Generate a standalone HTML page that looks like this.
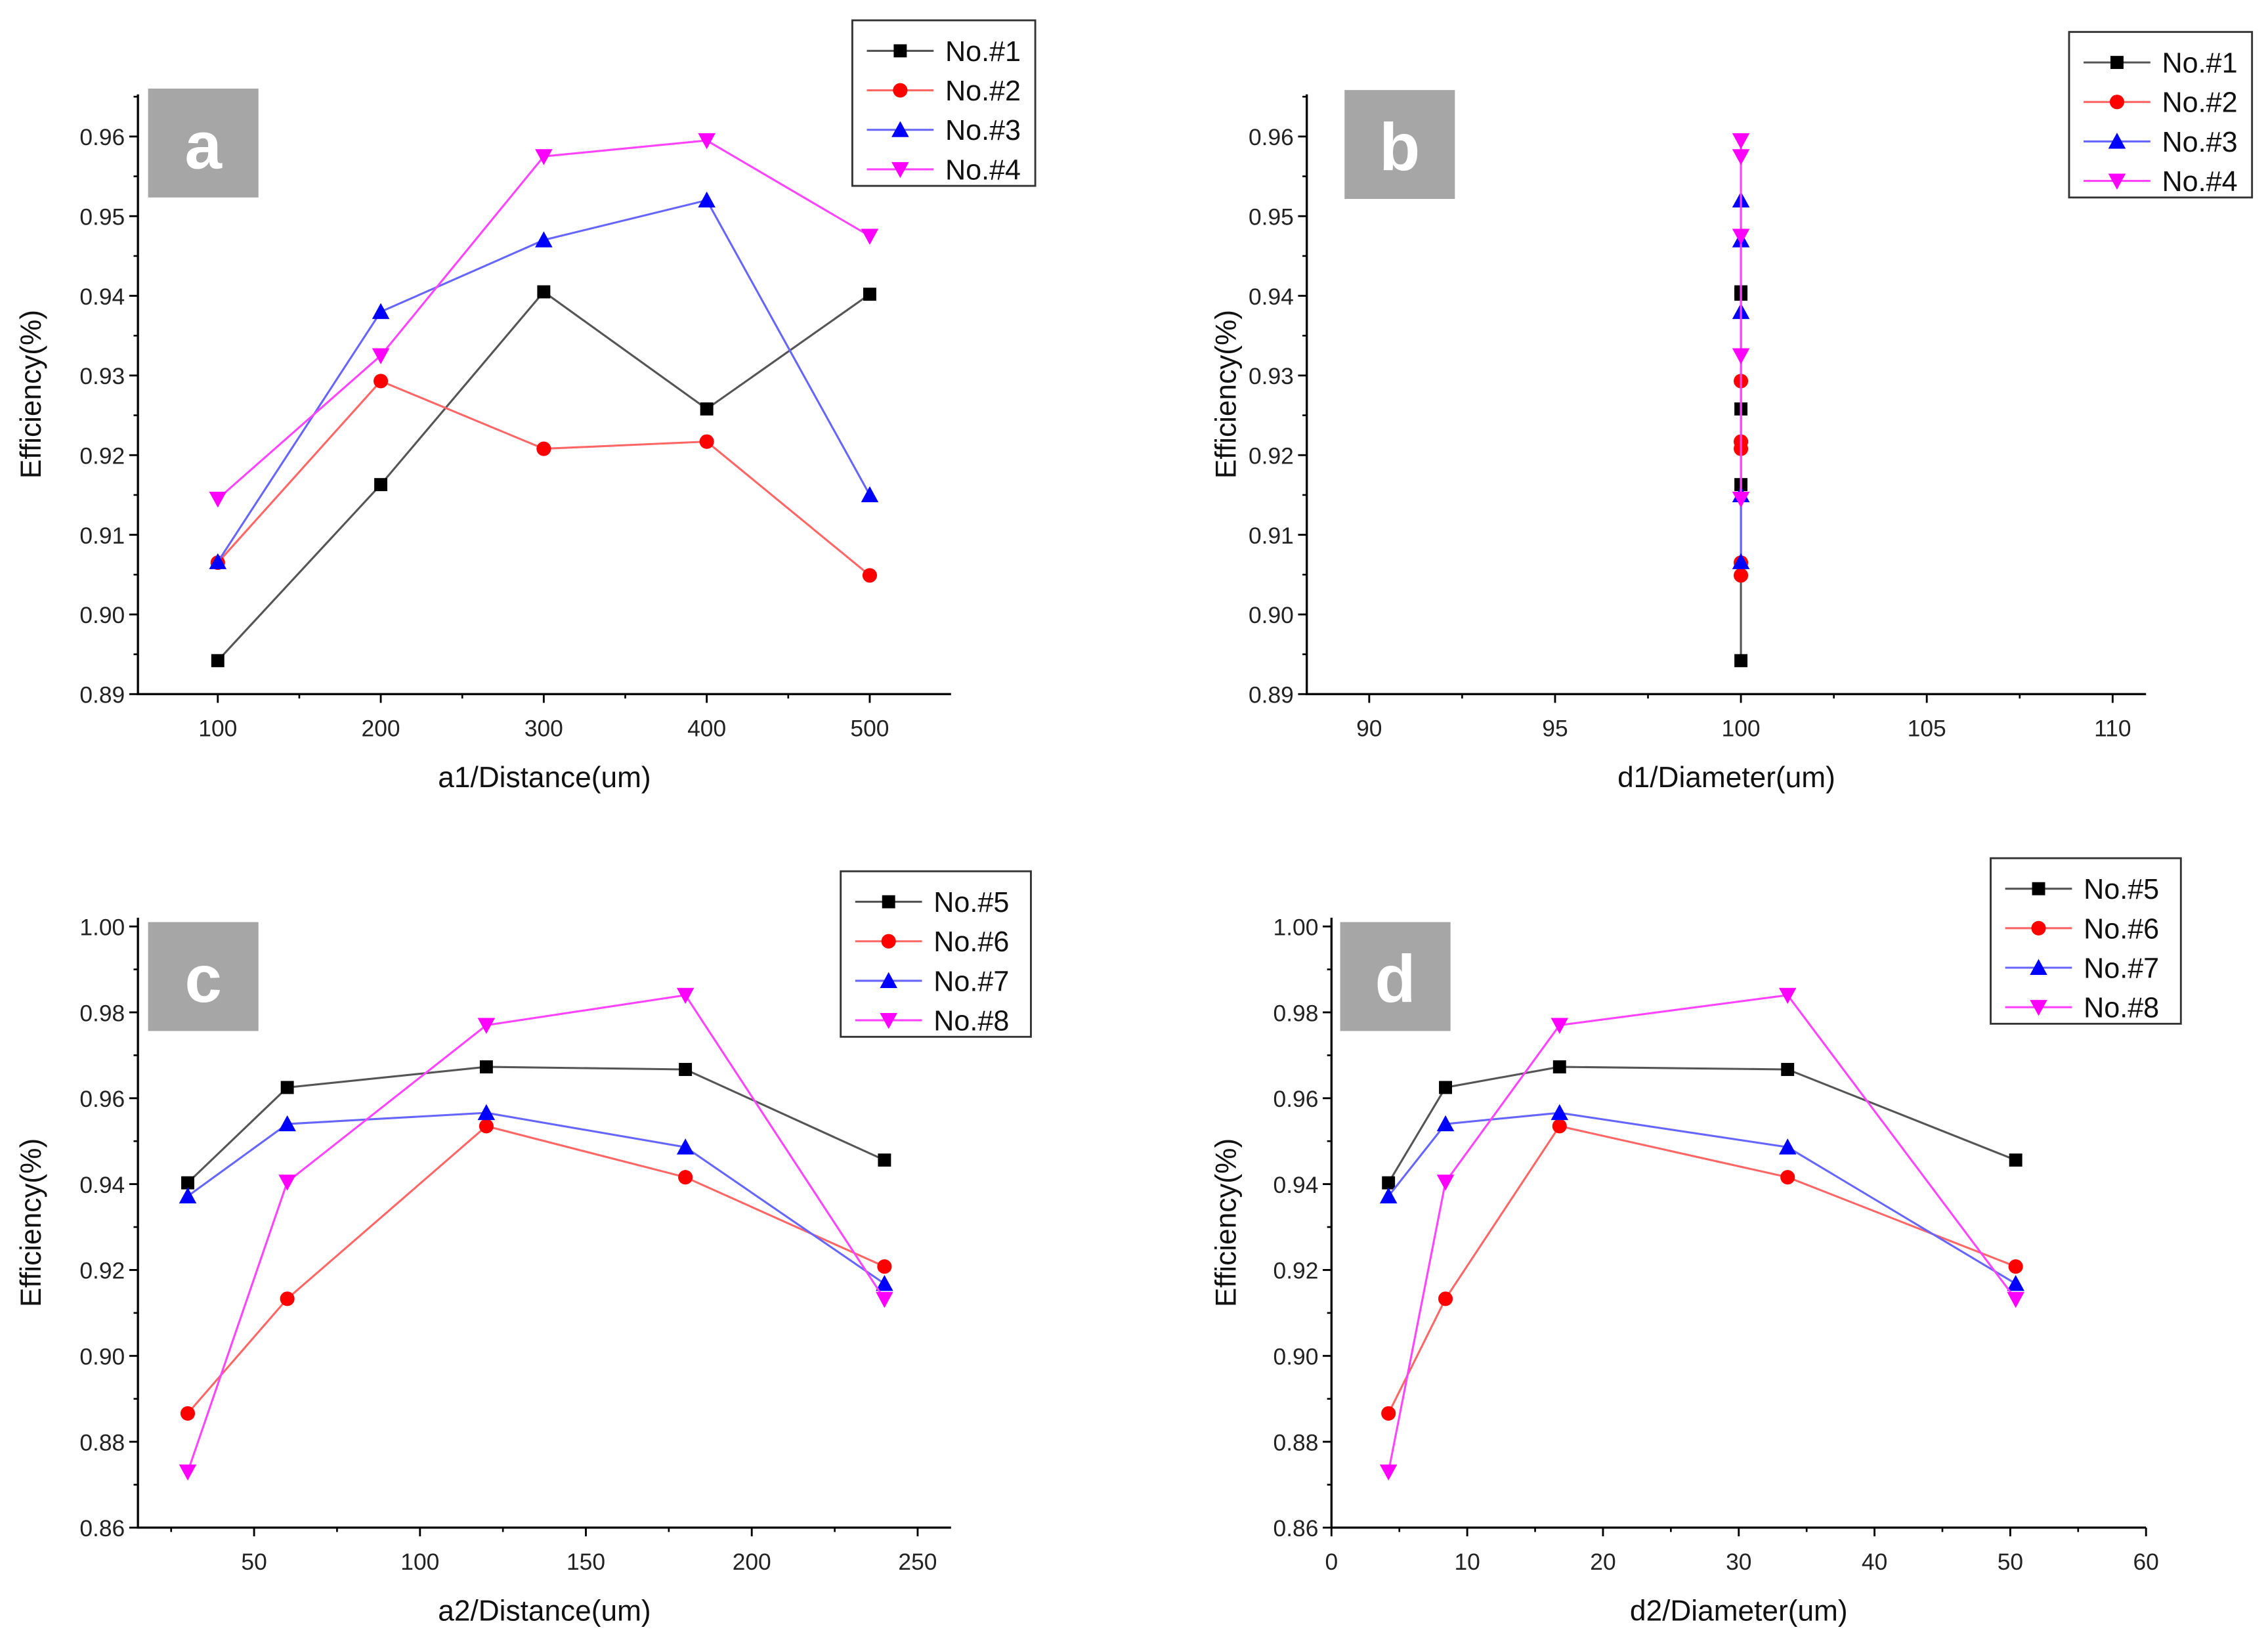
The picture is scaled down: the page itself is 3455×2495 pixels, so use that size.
<!DOCTYPE html>
<html><head><meta charset="utf-8"><style>
html,body{margin:0;padding:0;background:#fff;}
svg{display:block;font-family:"Liberation Sans",Arial,sans-serif;}
</style></head><body>
<svg id="fig" width="3455" height="2495" viewBox="0 0 1562 1128" preserveAspectRatio="none" xmlns="http://www.w3.org/2000/svg"></svg>
<script>
// ---- data ----
const xA = [100, 200, 300, 400, 500];
const xB = [100, 100, 100, 100, 100];
const xC = [30, 60, 120, 180, 240];
const xD = [4.2, 8.4, 16.8, 33.6, 50.4];
const s1 = [0.8942, 0.9163, 0.9405, 0.9258, 0.9402];
const s2 = [0.9065, 0.9293, 0.9208, 0.9217, 0.9049];
const s3 = [0.9066, 0.9380, 0.9470, 0.9520, 0.9150];
const s4 = [0.9145, 0.9325, 0.9575, 0.9595, 0.9475];
const s5 = [0.9403, 0.9625, 0.9673, 0.9667, 0.9456];
const s6 = [0.8866, 0.9133, 0.9535, 0.9416, 0.9208];
const s7 = [0.9372, 0.9540, 0.9566, 0.9486, 0.9168];
const s8 = [0.8730, 0.9405, 0.9770, 0.9840, 0.9132];
const ticksXA = [100, 200, 300, 400, 500];
const ticksXB = [90, 95, 100, 105, 110];
const ticksXC = [50, 100, 150, 200, 250];
const ticksXD = [0, 10, 20, 30, 40, 50, 60];
const ticksYAB = [0.89, 0.90, 0.91, 0.92, 0.93, 0.94, 0.95, 0.96];
const ticksYCD = [0.86, 0.88, 0.90, 0.92, 0.94, 0.96, 0.98, 1.00];
const namesAB = ["No.#1", "No.#2", "No.#3", "No.#4"];
const namesCD = ["No.#5", "No.#6", "No.#7", "No.#8"];

const NS = "http://www.w3.org/2000/svg";
const svg = document.getElementById('fig');
function mk(tag, attrs, parent) {
  const e = document.createElementNS(NS, tag);
  for (const k in attrs) e.setAttribute(k, attrs[k]);
  (parent || svg).appendChild(e);
  return e;
}
const styles = [
  {line: "#555", fill: "#000", m: "sq"},
  {line: "#f66", fill: "#f00", m: "ci"},
  {line: "#66f", fill: "#00f", m: "up"},
  {line: "#f4f", fill: "#f0f", m: "dn"}
];
function marker(g, m, x, y, fill) {
  let e;
  if (m === "sq") e = mk('rect', {x: x-4.5, y: y-4.5, width: 9, height: 9, fill: fill}, g);
  else if (m === "ci") e = mk('circle', {cx: x, cy: y, r: 5, fill: fill}, g);
  else if (m === "up") e = mk('polygon', {points: `${x},${y-6} ${x-6},${y+5} ${x+6},${y+5}`, fill: fill}, g);
  else e = mk('polygon', {points: `${x},${y+6} ${x-6},${y-5} ${x+6},${y-5}`, fill: fill}, g);
  
  
}

function panel(cfg) {
  const g = mk('g', {});
  
  
  const sx = v => cfg.px0 + (v - cfg.x0) / (cfg.x1 - cfg.x0) * (cfg.px1 - cfg.px0);
  const sy = v => cfg.py0 + (v - cfg.y0) / (cfg.y1 - cfg.y0) * (cfg.py1 - cfg.py0);
  const L = cfg.axL, R = cfg.axR, B = cfg.py0, T = cfg.axT;
  const ax = mk('path', {d: `M${L},${T} L${L},${B} L${R},${B}`, stroke: "#000", 'stroke-width': 1.5, fill: "none"}, g);
  
  
  cfg.ty.forEach((v, i) => {
    const y = sy(v);
    mk('line', {x1: L-6, x2: L, y1: y, y2: y, stroke: "#000", 'stroke-width': 1.3}, g);
    if (i < cfg.ty.length - 1) {
      const ym = sy((v + cfg.ty[i+1]) / 2);
      mk('line', {x1: L-3, x2: L, y1: ym, y2: ym, stroke: "#000", 'stroke-width': 1.2}, g);
    }
    const t = mk('text', {x: L-9, y: y+6, 'text-anchor': 'end', 'font-size': 16, fill: '#222'}, g);
    t.textContent = v.toFixed(2);
    
    
  });
  cfg.tx.forEach((v, i) => {
    const x = sx(v);
    mk('line', {x1: x, x2: x, y1: B, y2: B+6, stroke: "#000", 'stroke-width': 1.3}, g);
    if (i < cfg.tx.length - 1) {
      const xm = sx((v + cfg.tx[i+1]) / 2);
      mk('line', {x1: xm, x2: xm, y1: B, y2: B+3, stroke: "#000", 'stroke-width': 1.2}, g);
    }
    const t = mk('text', {x: x, y: B+29, 'text-anchor': 'middle', 'font-size': 16, fill: '#222'}, g);
    t.textContent = String(v);
    
    
  });
  const stepX = cfg.tx[1] - cfg.tx[0];
  [cfg.tx[0] - stepX/2, cfg.tx[cfg.tx.length-1] + stepX/2].forEach(v => {
    const x = sx(v);
    if (x > L + 1 && x < R - 1) mk('line', {x1: x, x2: x, y1: B, y2: B+3, stroke: "#000", 'stroke-width': 1.2}, g);
  });
  const stepY = cfg.ty[1] - cfg.ty[0];
  const ytop = sy(cfg.ty[cfg.ty.length-1] + stepY/2);
  if (ytop > T + 1) mk('line', {x1: L-3, x2: L, y1: ytop, y2: ytop, stroke: "#000", 'stroke-width': 1.2}, g);
  const xt = mk('text', {x: (L+R)/2, y: B+64, 'text-anchor': 'middle', 'font-size': 20, fill: '#111'}, g);
  xt.textContent = cfg.xtitle;
  
  
  const yc = (T + B) / 2;
  const yt = mk('text', {x: cfg.ytx, y: yc, 'text-anchor': 'middle', 'font-size': 20, fill: '#111', transform: `rotate(-90 ${cfg.ytx} ${yc})`}, g);
  yt.textContent = "Efficiency(%)";
  
  
  const bx = mk('rect', {x: cfg.bx, y: cfg.by, width: 76, height: 75, fill: '#a6a6a6'}, g);
  
  
  const bt = mk('text', {x: cfg.bx+38, y: cfg.by+55, 'text-anchor': 'middle', 'font-size': 46, 'font-weight': 'bold', fill: '#fff'}, g);
  bt.textContent = cfg.letter;
  
  
  cfg.series.forEach((ys, si) => {
    const st = styles[si];
    const sg = mk('g', {}, g);
    
    
    const pts = ys.map((v, i) => `${sx(cfg.xs[i])},${sy(v)}`).join(' ');
    mk('polyline', {points: pts, fill: 'none', stroke: st.line, 'stroke-width': 1.4}, sg);
    ys.forEach((v, i) => marker(sg, st.m, sx(cfg.xs[i]), sy(v), st.fill));
  });
  const lg = mk('g', {}, g);
  
  
  mk('rect', {x: cfg.lx, y: cfg.ly, width: cfg.lw, height: 114, fill: '#fff', stroke: '#333', 'stroke-width': 1.3}, lg);
  cfg.names.forEach((n, i) => {
    const st = styles[i];
    const y = cfg.ly + 21 + i * 27.2;
    const eg = mk('g', {}, lg);
    
    
    mk('line', {x1: cfg.lx+10, x2: cfg.lx+56, y1: y, y2: y, stroke: st.line, 'stroke-width': 1.4}, eg);
    marker(eg, st.m, cfg.lx+33, y, st.fill);
    const t = mk('text', {x: cfg.lx+64, y: y+7, 'font-size': 19.5, fill: '#111'}, eg);
    t.textContent = n;
  });
}

panel({letter: 'a', xs: xA, series: [s1, s2, s3, s4], names: namesAB, tx: ticksXA, ty: ticksYAB,
  x0: 100, x1: 500, px0: 150, px1: 599, y0: 0.89, y1: 0.96, py0: 478, py1: 94,
  axL: 95, axR: 655, axT: 65, xtitle: 'a1/Distance(um)', ytx: 28, bx: 102, by: 61,
  lx: 587, ly: 14, lw: 126});
panel({letter: 'b', xs: xB, series: [s1, s2, s3, s4], names: namesAB, tx: ticksXB, ty: ticksYAB,
  x0: 90, x1: 110, px0: 943, px1: 1455, y0: 0.89, y1: 0.96, py0: 478, py1: 94,
  axL: 900, axR: 1478, axT: 65, xtitle: 'd1/Diameter(um)', ytx: 851, bx: 926, by: 62,
  lx: 1425, ly: 22, lw: 126});
panel({letter: 'c', xs: xC, series: [s5, s6, s7, s8], names: namesCD, tx: ticksXC, ty: ticksYCD,
  x0: 50, x1: 250, px0: 175, px1: 632, y0: 0.86, y1: 1.00, py0: 1052, py1: 638,
  axL: 95, axR: 655, axT: 632, xtitle: 'a2/Distance(um)', ytx: 28, bx: 102, by: 635,
  lx: 579, ly: 600, lw: 131});
panel({letter: 'd', xs: xD, series: [s5, s6, s7, s8], names: namesCD, tx: ticksXD, ty: ticksYCD,
  x0: 0, x1: 60, px0: 917, px1: 1478, y0: 0.86, y1: 1.00, py0: 1052, py1: 638,
  axL: 917, axR: 1478, axT: 632, xtitle: 'd2/Diameter(um)', ytx: 851, bx: 923, by: 635,
  lx: 1371, ly: 591, lw: 131});
</script>
</body></html>
